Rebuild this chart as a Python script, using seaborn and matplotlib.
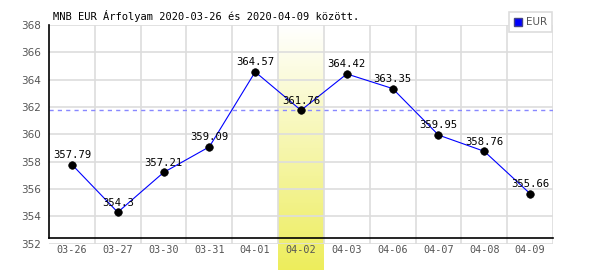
import numpy as np
import pandas as pd
import matplotlib
matplotlib.use("Agg")
import matplotlib.pyplot as plt
import seaborn as sns
from matplotlib.lines import Line2D
from matplotlib.ticker import MultipleLocator, FixedLocator

dates = ["03-26", "03-27", "03-30", "03-31", "04-01", "04-02",
         "04-03", "04-06", "04-07", "04-08", "04-09"]
rates = [357.79, 354.3, 357.21, 359.09, 364.57, 361.76,
         364.42, 363.35, 359.95, 358.76, 355.66]
labels = ["357.79", "354.3", "357.21", "359.09", "364.57", "361.76",
          "364.42", "363.35", "359.95", "358.76", "355.66"]
ref_value = 361.76
highlight = "04-02"
title = "MNB EUR Árfolyam 2020-03-26 és 2020-04-09 között."
series_name = "EUR"

df = pd.DataFrame({"date": dates, "rate": rates})

sns.set_style("white")
fig = plt.figure(figsize=(6, 2.7), dpi=100)
W, H = 600, 270
left, right, top, bottom = 49, 553, 25, 243.7
ax = fig.add_axes([left / W, 1 - bottom / H, (right - left) / W, (bottom - top) / H])

sns.lineplot(data=df, x="date", y="rate", ax=ax, color="#0000ff", linewidth=0.8,
             zorder=3, legend=False)
sns.scatterplot(data=df, x="date", y="rate", ax=ax, color="black", s=30,
                edgecolor="black", zorder=4, legend=False)

# highlight band with gradient
hi = dates.index(highlight)
grad = np.linspace(0, 1, 256).reshape(-1, 1)
top_c = np.array([1.0, 1.0, 1.0])
bot_c = np.array([0.93, 0.93, 0.36])
img = top_c[None, None, :] * (1 - grad[..., None]) + bot_c[None, None, :] * grad[..., None]
ext_bottom = 352 - (270 - bottom) / ((bottom - top) / 16)
ax.imshow(img, extent=(hi - 0.5, hi + 0.5, ext_bottom, 368), aspect="auto",
          origin="upper", zorder=0, clip_on=False)
ax.set_xlim(-0.5, len(dates) - 0.5)
ax.set_ylim(352, 368)

# grid
ax.yaxis.set_major_locator(MultipleLocator(2))
ax.xaxis.set_major_locator(FixedLocator(range(len(dates))))
ax.xaxis.set_minor_locator(FixedLocator([i + 0.5 for i in range(len(dates))]))
ax.grid(False)
ax.grid(True, axis="y", which="major", color="#dddddd", linewidth=1.2, zorder=1)
ax.grid(True, axis="x", which="minor", color="#dddddd", linewidth=1.2, zorder=1)
ax.set_axisbelow(True)

ax.axhline(ref_value, color="#8888ff", linestyle=(0, (3, 3)), linewidth=1, zorder=2)

for i, (v, lab) in enumerate(zip(rates, labels)):
    ax.annotate(lab, (i, v), xytext=(0, 7), textcoords="offset points",
                ha="center", va="center", fontsize=7.6, family="DejaVu Sans Mono",
                color="black", zorder=5)

ax.set_xlabel("")
ax.set_ylabel("")
ax.set_xticks(range(len(dates)))
ax.set_xticklabels(dates)
ax.tick_params(axis="x", which="both", length=0, pad=5, labelsize=7.3,
               labelcolor="#555555", labelfontfamily="DejaVu Sans Mono")
ax.tick_params(axis="y", length=0, pad=6, labelsize=7.5, labelcolor="#555555")

for s in ["top", "right"]:
    ax.spines[s].set_visible(False)
ax.spines["left"].set_color("black")
ax.spines["left"].set_linewidth(1.2)
ax.spines["bottom"].set_color("black")
ax.spines["bottom"].set_linewidth(1.2)
ax.spines["bottom"].set_position(("data", 352.4))
ax.spines["left"].set_bounds(352.4, 368)

fig.text(53 / W, 1 - 16 / H, title, family="DejaVu Sans Mono", fontsize=7.5,
         ha="left", va="center", color="black")

handle = Line2D([], [], marker="s", linestyle="none", markerfacecolor="#0000ff",
                markeredgecolor="#444488", markersize=6)
leg = fig.legend([handle], [series_name], loc="upper right",
                 bbox_to_anchor=(552 / W, 1 - 12 / H), frameon=True, fancybox=False,
                 edgecolor="#dddddd", framealpha=1, fontsize=7.5, handlelength=0.8,
                 handletextpad=0.3, borderpad=0.5, borderaxespad=0)
for t in leg.get_texts():
    t.set_color("#555555")
leg.get_frame().set_linewidth(1.2)

fig.savefig("out.png", dpi=100)
